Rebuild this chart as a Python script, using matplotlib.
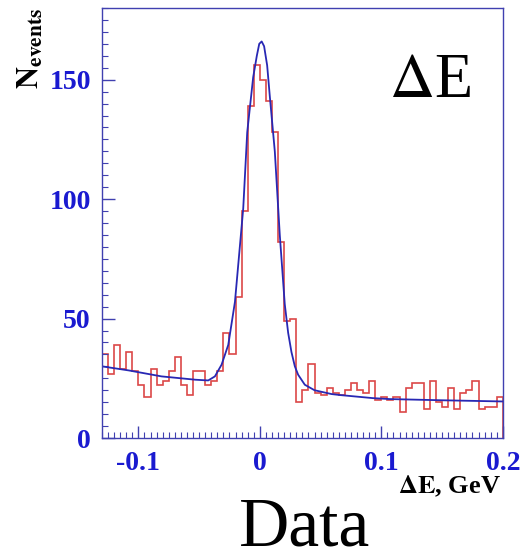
import numpy as np
import matplotlib
matplotlib.use("Agg")
import matplotlib.pyplot as plt
from matplotlib.ticker import MultipleLocator

# histogram: Delta E, 66 bins of 0.005 GeV starting at -0.13
x_lo = -0.13
bin_w = 0.005
counts = [35, 27, 39, 29, 36, 28, 22, 17, 29, 22, 24, 28, 34, 22, 18, 28, 28, 22, 24, 28,
          44, 35, 59, 95, 139, 156, 150, 141, 128, 82, 49, 50, 15, 20, 31, 19, 18, 21, 19, 18,
          20, 23, 20, 19, 24, 16, 17, 16, 17, 11, 21, 23, 23, 12, 24, 15, 13, 21, 12, 19,
          20, 24, 12, 13, 13, 17]

# fit curve, points
fit_x = [-0.13, -0.108, -0.081, -0.053, -0.0425, -0.037, -0.0315, -0.026, -0.0205,
         -0.0137, -0.0104, -0.0055, -0.0025, -0.0005, 0.0015, 0.0035, 0.006, 0.0082,
         0.0123, 0.0164, 0.0205, 0.0233, 0.026, 0.0288, 0.0315, 0.037, 0.045, 0.059,
         0.0657, 0.093, 0.107, 0.15, 0.2]
fit_y = [30, 28.3, 25.8, 24.4, 24.1, 25.8, 30.7, 39, 57, 96, 128, 151, 160, 165, 166,
         164, 156, 143, 120, 85, 56, 44, 36, 30, 26.5, 22.3, 20, 18.4, 18, 16.7, 16.3,
         15.8, 15.3]

xticks = [-0.1, 0, 0.1, 0.2]
xtick_labels = ["-0.1", "0", "0.1", "0.2"]
yticks = [0, 50, 100, 150]

edges = x_lo + bin_w * np.arange(len(counts) + 1)

plt.rcParams['mathtext.fontset'] = 'stix'
blue_txt = '#1a1ad0'
frame_col = '#4040b0'

fig = plt.figure(figsize=(5.2, 5.56), dpi=100)
ax = fig.add_axes([0.196, 0.2122, 0.771, 0.7734])

ax.stairs(counts, edges, color='#dc4848', lw=1.2)
ax.plot(fit_x, fit_y, color='#2828b4', lw=1.3)

ax.set_xlim(-0.13, 0.2)
ax.set_ylim(0, 180)

ax.set_xticks(xticks)
ax.set_xticklabels(xtick_labels)
ax.set_yticks(yticks)
ax.xaxis.set_minor_locator(MultipleLocator(0.005))
ax.yaxis.set_minor_locator(MultipleLocator(5))
ax.tick_params(which='both', direction='in', color=frame_col, top=False, right=False)
ax.tick_params(which='major', length=9, width=1)
ax.tick_params(which='minor', length=4, width=0.8)
ax.tick_params(axis='x', pad=9)
ax.tick_params(axis='y', pad=8)
for lab in ax.get_xticklabels() + ax.get_yticklabels():
    lab.set_fontfamily('Liberation Serif')
    lab.set_fontweight('bold')
    lab.set_fontsize(20)
    lab.set_color(blue_txt)
for s in ax.spines.values():
    s.set_color(frame_col)
    s.set_linewidth(1)

# texts
fig.text(0.058, 0.985, r'$\mathbf{N_{events}}$', rotation=90, ha='center', va='top',
         fontsize=22, color='black')
fig.text(0.963, 0.113, r'$\mathbf{\Delta E}$' + ', GeV', ha='right', va='baseline',
         fontsize=19, fontweight='bold', family='Liberation Serif')
fig.text(0.748, 0.826, r'$\Delta$E', ha='left', va='baseline', fontsize=45,
         family='Liberation Serif')
fig.text(0.46, 0.018, 'Data', ha='left', va='baseline', fontsize=50,
         family='Liberation Serif')

plt.savefig("out.png", dpi=100)
